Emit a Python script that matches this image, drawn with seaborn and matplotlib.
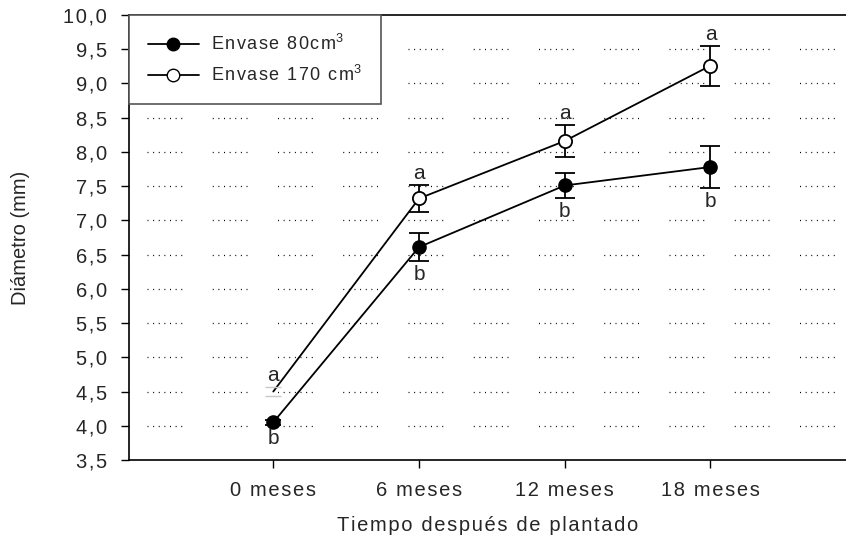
import matplotlib
matplotlib.use('Agg')
import matplotlib.pyplot as plt
import seaborn as sns
import pandas as pd
import numpy as np

# data
meses = ['0 meses', '6 meses', '12 meses', '18 meses']
env80 = [4.05, 6.61, 7.51, 7.78]
env80_err = [0.04, 0.20, 0.18, 0.30]
env170 = [4.50, 7.32, 8.16, 9.26]
env170_err = [0.07, 0.20, 0.23, 0.29]
letras80 = ['b', 'b', 'b', 'b']
letras170 = ['a', 'a', 'a', 'a']
yticks = [3.5, 4.0, 4.5, 5.0, 5.5, 6.0, 6.5, 7.0, 7.5, 8.0, 8.5, 9.0, 9.5, 10.0]
grid_y = [4.0, 4.5, 5.0, 5.5, 6.0, 6.5, 7.0, 7.5, 8.0, 8.5, 9.0, 9.5]

sns.set_style('ticks')
plt.rcParams['font.family'] = ['Liberation Sans', 'DejaVu Sans']
plt.rcParams['mathtext.fontset'] = 'custom'
plt.rcParams['mathtext.rm'] = 'Liberation Sans'


def spaced(s):
    # the original uses a wide letter spacing
    return '\u200a'.join(s)


x = np.arange(len(meses))
df = pd.DataFrame({'x': np.concatenate([x, x]),
                   'y': env80 + env170,
                   'serie': ['80'] * 4 + ['170'] * 4})

fig = plt.figure(figsize=(8.46, 5.42), dpi=100)
ax = fig.add_axes([0.1525, 0.1513, 0.8475, 0.821])

# dotted grid in short groups
dash = (0, (0.8, 3.7) * 6 + (0.8, 24.4))
for g in grid_y:
    ax.plot([-0.87, 3.93], [g, g], color='black', lw=0.9, linestyle=dash, zorder=0)

sns.lineplot(data=df, x='x', y='y', hue='serie', palette=['black', 'black'],
             ax=ax, legend=False, lw=1.3, zorder=2)

# error bars
ax.errorbar(x[1:], env80[1:], yerr=env80_err[1:], fmt='none', ecolor='black',
            elinewidth=1.3, capsize=7, capthick=1.3, zorder=3)
ax.errorbar(x[:1], env80[:1], yerr=env80_err[:1], fmt='none', ecolor='black',
            elinewidth=1.3, capsize=6, capthick=1.3, zorder=3)
ax.errorbar(x[1:], env170[1:], yerr=env170_err[1:], fmt='none', ecolor='black',
            elinewidth=1.3, capsize=7, capthick=1.3, zorder=3)
ax.errorbar(x[:1], env170[:1], yerr=env170_err[:1], fmt='none', ecolor='#c8c8c8',
            elinewidth=0, capsize=6, capthick=1.0, zorder=3)

ax.plot(x, env80, 'o', color='black', ms=9.5, zorder=4)
ax.plot(x[1:], env170[1:], 'o', mfc='white', mec='black', mew=1.3, ms=9.5, zorder=4)

for i in range(len(meses)):
    ax.text(x[i], env170[i] + env170_err[i] + 0.03, letras170[i], ha='center',
            va='bottom', fontsize=15)
    ax.text(x[i], env80[i] - env80_err[i] - 0.06, letras80[i], ha='center',
            va='top', fontsize=15)

ax.set_xlim(-0.99, 3.93)
ax.set_ylim(3.5, 10.0)
ax.set_xticks(x)
ax.set_xticklabels([spaced(m) for m in meses], fontsize=14.5)
ax.set_yticks(yticks)
ax.set_yticklabels([spaced(f'{v:.1f}'.replace('.', ',')) for v in yticks], fontsize=14.5)
ax.tick_params(axis='both', direction='out', length=6, width=1, color='black')
ax.tick_params(axis='x', pad=9)
ax.tick_params(axis='y', pad=10)
for side in ['left', 'bottom', 'top']:
    ax.spines[side].set_color('black')
    ax.spines[side].set_linewidth(1.2)
ax.spines['right'].set_visible(False)

ax.set_xlabel(spaced('Tiempo después de plantado'), fontsize=14.5, labelpad=12)
ax.set_ylabel('Diámetro (mm)', fontsize=14.5, labelpad=24)

h1, = ax.plot([], [], '-o', color='black', ms=9, lw=1.3)
h2, = ax.plot([], [], '-o', color='black', mfc='white', mec='black', ms=9, lw=1.3)
leg = ax.legend([h1, h2], [spaced('Envase 80cm') + '$^3$', spaced('Envase 170 cm') + '$^3$'],
                loc='upper left', bbox_to_anchor=(0, 1), borderaxespad=0,
                fancybox=False, framealpha=1, edgecolor='#555555', fontsize=13,
                handlelength=2.8, handletextpad=0.7, borderpad=1.05, labelspacing=0.6)
leg.get_frame().set_linewidth(1.2)

fig.savefig('out.png', dpi=100)
